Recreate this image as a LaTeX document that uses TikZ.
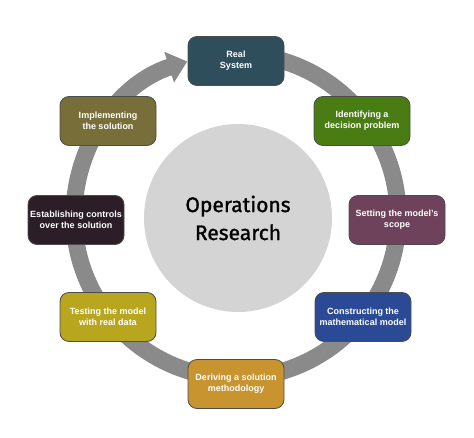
\documentclass[tikz,border=0pt]{standalone}
\usepackage{fontspec}
\setmainfont{Liberation Sans}
\newfontfamily\hubfont[FakeBold=1.2]{Fira Sans}
\usetikzlibrary{arrows.meta}

\definecolor{ringgray}{RGB}{138,138,138}
\definecolor{hubgray}{RGB}{212,212,212}
\definecolor{realcol}{RGB}{46,78,92}
\definecolor{identcol}{RGB}{74,124,20}
\definecolor{scopecol}{RGB}{110,66,90}
\definecolor{modelcol}{RGB}{42,74,150}
\definecolor{methodcol}{RGB}{200,148,48}
\definecolor{testcol}{RGB}{184,166,30}
\definecolor{controlcol}{RGB}{44,30,38}
\definecolor{implcol}{RGB}{120,110,58}

\begin{document}
\begin{tikzpicture}[x=1pt,y=1pt]
		\tikzstyle{every node}+=[inner sep=0pt]
		\tikzstyle{stage}=[draw=black!70, line width=0.8pt, rounded corners=9pt, minimum width=96pt, minimum height=49pt, align=center, text=white, font=\fontsize{9}{11}\selectfont\bfseries]
		\useasboundingbox (0,0) rectangle (474,-438);
		\coordinate (o) at (236,-216);
		\draw [ringgray, line width=17pt, -{Triangle[length=19pt,width=31pt]}] (o) ++(95:162) arc (95:-252.5:162);
		\node [circle, fill=hubgray, minimum size=188pt, align=center, font=\hubfont\fontsize{21}{28}\selectfont] (hub) at (238,-218) {Operations\\Research};
		\node [stage, fill=realcol] (real) at (236,-61) {Real\\System};
		\node [stage, fill=identcol] (ident) at (362,-121) {Identifying a\\decision problem};
		\node [stage, fill=scopecol] (scope) at (397,-220) {Setting the model's\\scope};
		\node [stage, fill=modelcol] (model) at (363,-317) {Constructing the\\mathematical model};
		\node [stage, fill=methodcol] (method) at (236,-384) {Deriving a solution\\methodology};
		\node [stage, fill=testcol] (test) at (108,-317) {Testing the model\\with real data};
		\node [stage, fill=controlcol] (control) at (76,-220) {Establishing controls\\over the solution};
		\node [stage, fill=implcol] (impl) at (108,-121) {Implementing\\the solution};
	\end{tikzpicture}
\end{document}
